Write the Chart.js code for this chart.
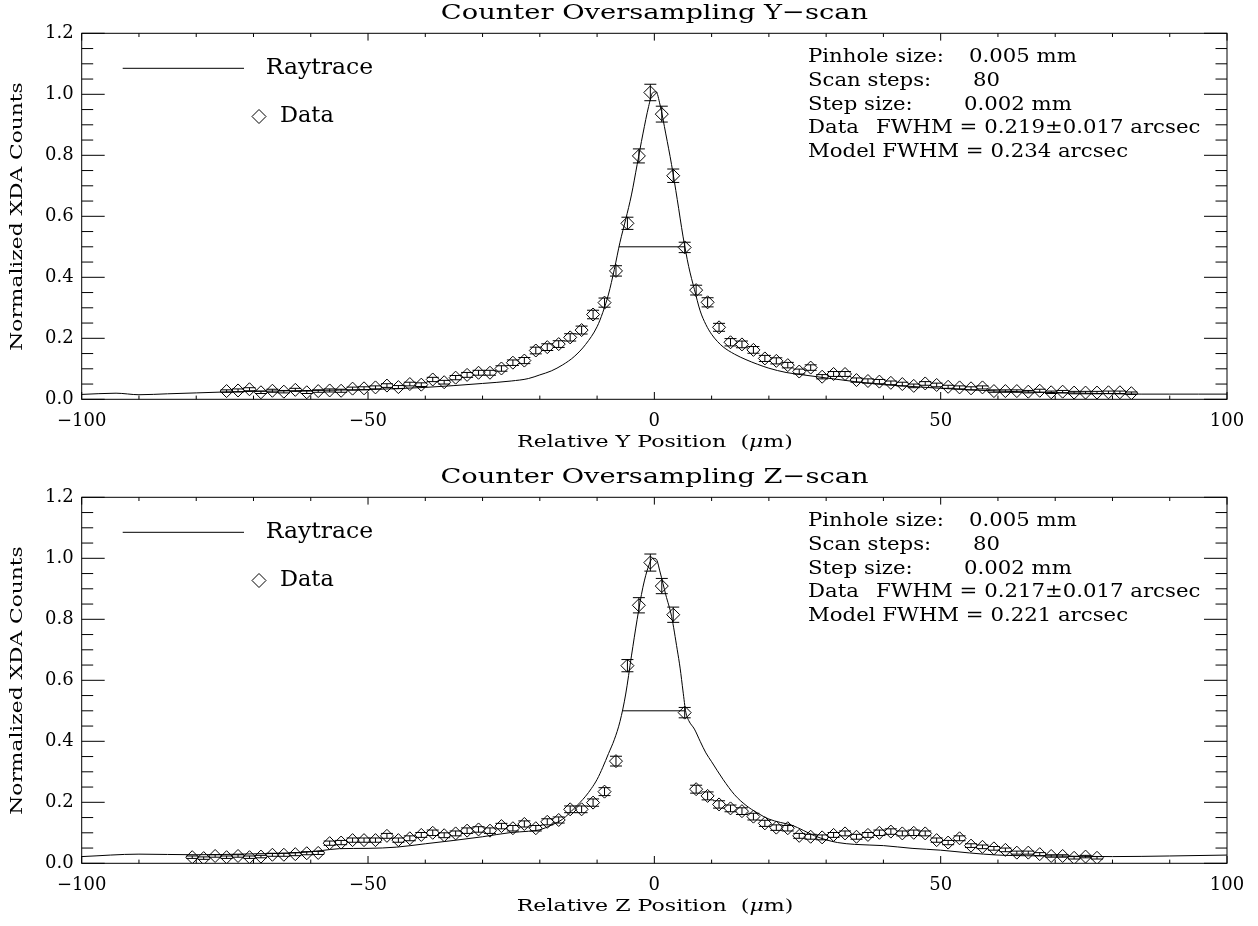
<!DOCTYPE html>
<html lang="en">
  <head>
    <meta charset="UTF-8" />
    <title>Counter Oversampling scans</title>
    <script src="https://cdn.jsdelivr.net/npm/chart.js@4.4.1/dist/chart.umd.min.js"></script>
    <style>
      body { margin: 0; background: #fff; }
      .wrap { position: relative; width: 1258px; height: 926px; }
      canvas { position: absolute; left: 0; }
      #yscan { top: 0; }
      #zscan { top: 464px; }
    </style>
  </head>
  <body>
    <div class="wrap">
      <canvas id="yscan" width="1258" height="463"></canvas>
      <canvas id="zscan" width="1258" height="463"></canvas>
    </div>

    <script>
      // axis ticks
      const xTickValues = [-100, -50, 0, 50, 100];
      const yTickValues = [0, 0.2, 0.4, 0.6, 0.8, 1.0, 1.2];

      // Y-scan: measured points (position in um, normalized counts, 1-sigma)
      const yScanPos = [
        -74.7, -72.7, -70.7, -68.7, -66.7, -64.7, -62.7, -60.7, -58.7, -56.7,
        -54.7, -52.7, -50.7, -48.7, -46.7, -44.7, -42.7, -40.7, -38.7, -36.7,
        -34.7, -32.7, -30.7, -28.7, -26.7, -24.7, -22.7, -20.7, -18.7, -16.7,
        -14.7, -12.7, -10.7, -8.7, -6.7, -4.7, -2.7, -0.7, 1.3, 3.3,
        5.3, 7.3, 9.3, 11.3, 13.3, 15.3, 17.3, 19.3, 21.3, 23.3,
        25.3, 27.3, 29.3, 31.3, 33.3, 35.3, 37.3, 39.3, 41.3, 43.3,
        45.3, 47.3, 49.3, 51.3, 53.3, 55.3, 57.3, 59.3, 61.3, 63.3,
        65.3, 67.3, 69.3, 71.3, 73.3, 75.3, 77.3, 79.3, 81.3, 83.3
      ];
      const yScanCounts = [
        0.027, 0.029, 0.033, 0.023, 0.028, 0.025, 0.031, 0.023, 0.027, 0.029,
        0.028, 0.035, 0.036, 0.039, 0.045, 0.040, 0.050, 0.048, 0.065, 0.056,
        0.071, 0.080, 0.087, 0.087, 0.101, 0.120, 0.127, 0.160, 0.171, 0.181,
        0.203, 0.227, 0.278, 0.317, 0.421, 0.577, 0.798, 1.006, 0.935, 0.733,
        0.498, 0.358, 0.318, 0.236, 0.187, 0.180, 0.162, 0.134, 0.126, 0.112,
        0.091, 0.104, 0.074, 0.083, 0.083, 0.063, 0.060, 0.058, 0.054, 0.050,
        0.044, 0.052, 0.047, 0.041, 0.039, 0.036, 0.039, 0.027, 0.027, 0.027,
        0.025, 0.028, 0.023, 0.025, 0.022, 0.022, 0.022, 0.023, 0.023, 0.020
      ];
      const yScanErr = [
        0.004, 0.005, 0.005, 0.004, 0.005, 0.004, 0.005, 0.004, 0.004, 0.005,
        0.005, 0.005, 0.005, 0.005, 0.006, 0.005, 0.006, 0.006, 0.007, 0.006,
        0.007, 0.008, 0.008, 0.008, 0.009, 0.009, 0.010, 0.011, 0.011, 0.011,
        0.012, 0.013, 0.014, 0.015, 0.017, 0.020, 0.023, 0.027, 0.026, 0.022,
        0.017, 0.016, 0.015, 0.013, 0.012, 0.011, 0.011, 0.010, 0.010, 0.009,
        0.008, 0.009, 0.007, 0.008, 0.008, 0.007, 0.007, 0.007, 0.006, 0.006,
        0.006, 0.006, 0.006, 0.005, 0.005, 0.005, 0.005, 0.004, 0.004, 0.004,
        0.004, 0.005, 0.004, 0.004, 0.004, 0.004, 0.004, 0.004, 0.004, 0.004
      ];
      // Y-scan raytrace model
      const yModelPos = [
        -100, -94, -90, -85, -80, -75, -70, -60, -50, -40,
        -30, -25, -22, -20, -18, -16, -14, -12, -10, -9,
        -8, -7, -6, -5, -4, -3, -2, -1, -0.3, 0.3,
        1, 2, 3, 4, 5, 6, 7, 8, 9, 10,
        11, 12, 14, 16, 18, 20, 23, 26, 30, 35,
        40, 45, 50, 60, 70, 80, 85, 90, 95, 100
      ];
      const yModelCounts = [
        0.016, 0.020, 0.015, 0.018, 0.021, 0.024, 0.026, 0.029, 0.032, 0.039,
        0.052, 0.060, 0.068, 0.080, 0.093, 0.113, 0.140, 0.180, 0.238, 0.285,
        0.345, 0.425, 0.515, 0.590, 0.670, 0.770, 0.870, 0.960, 1.005, 1.008,
        0.965, 0.870, 0.770, 0.655, 0.535, 0.435, 0.360, 0.290, 0.245, 0.213,
        0.190, 0.172, 0.148, 0.130, 0.115, 0.102, 0.088, 0.080, 0.070, 0.058,
        0.048, 0.042, 0.036, 0.027, 0.022, 0.018, 0.017, 0.017, 0.017, 0.017
      ];
      const yHalfMax = [-6.18, 5.29];

      // Z-scan: measured points
      const zScanPos = [
        -80.7, -78.7, -76.7, -74.7, -72.7, -70.7, -68.7, -66.7, -64.7, -62.7,
        -60.7, -58.7, -56.7, -54.7, -52.7, -50.7, -48.7, -46.7, -44.7, -42.7,
        -40.7, -38.7, -36.7, -34.7, -32.7, -30.7, -28.7, -26.7, -24.7, -22.7,
        -20.7, -18.7, -16.7, -14.7, -12.7, -10.7, -8.7, -6.7, -4.7, -2.7,
        -0.7, 1.3, 3.3, 5.3, 7.3, 9.3, 11.3, 13.3, 15.3, 17.3,
        19.3, 21.3, 23.3, 25.3, 27.3, 29.3, 31.3, 33.3, 35.3, 37.3,
        39.3, 41.3, 43.3, 45.3, 47.3, 49.3, 51.3, 53.3, 55.3, 57.3,
        59.3, 61.3, 63.3, 65.3, 67.3, 69.3, 71.3, 73.3, 75.3, 77.3
      ];
      const zScanCounts = [
        0.020, 0.017, 0.024, 0.020, 0.024, 0.020, 0.022, 0.028, 0.028, 0.030,
        0.033, 0.034, 0.066, 0.068, 0.076, 0.076, 0.076, 0.090, 0.076, 0.082,
        0.093, 0.100, 0.092, 0.098, 0.107, 0.111, 0.107, 0.122, 0.115, 0.129,
        0.115, 0.136, 0.142, 0.177, 0.177, 0.199, 0.235, 0.335, 0.648, 0.846,
        0.986, 0.909, 0.815, 0.494, 0.243, 0.221, 0.193, 0.180, 0.171, 0.153,
        0.131, 0.117, 0.115, 0.090, 0.087, 0.085, 0.093, 0.098, 0.087, 0.093,
        0.100, 0.104, 0.098, 0.100, 0.098, 0.076, 0.068, 0.082, 0.058, 0.054,
        0.049, 0.044, 0.035, 0.035, 0.030, 0.024, 0.024, 0.018, 0.022, 0.018
      ];
      const zScanErr = [
        0.004, 0.004, 0.004, 0.004, 0.004, 0.004, 0.004, 0.005, 0.005, 0.005,
        0.005, 0.005, 0.007, 0.007, 0.007, 0.007, 0.007, 0.008, 0.007, 0.008,
        0.008, 0.009, 0.008, 0.008, 0.009, 0.009, 0.009, 0.009, 0.009, 0.010,
        0.009, 0.010, 0.010, 0.011, 0.011, 0.012, 0.013, 0.016, 0.020, 0.025,
        0.028, 0.025, 0.025, 0.017, 0.013, 0.013, 0.012, 0.011, 0.011, 0.011,
        0.010, 0.009, 0.009, 0.008, 0.008, 0.008, 0.008, 0.008, 0.008, 0.008,
        0.009, 0.009, 0.008, 0.009, 0.008, 0.007, 0.007, 0.008, 0.006, 0.006,
        0.006, 0.006, 0.005, 0.005, 0.005, 0.004, 0.004, 0.004, 0.004, 0.004
      ];
      // Z-scan raytrace model
      const zModelPos = [
        -100, -90, -80, -70, -62, -58, -55, -50, -45, -40,
        -35, -30, -25, -22, -20, -18, -16, -14, -12, -11,
        -10, -9, -8, -7, -6, -5, -4, -3, -2, -1,
        -0.3, 0.3, 1, 2, 3, 4, 4.5, 5, 5.5, 6,
        7, 8, 9, 10, 12, 14, 16, 18, 20, 22,
        24, 26, 28, 30, 32, 35, 40, 45, 50, 55,
        60, 70, 80, 90, 100
      ];
      const zModelCounts = [
        0.022, 0.030, 0.028, 0.031, 0.035, 0.042, 0.048, 0.049, 0.053, 0.064,
        0.075, 0.087, 0.101, 0.105, 0.110, 0.125, 0.145, 0.180, 0.220, 0.245,
        0.275, 0.315, 0.360, 0.405, 0.465, 0.555, 0.680, 0.800, 0.905, 0.975,
        1.000, 0.998, 0.955, 0.880, 0.810, 0.700, 0.640, 0.565, 0.495, 0.468,
        0.440, 0.400, 0.362, 0.333, 0.275, 0.225, 0.190, 0.165, 0.145, 0.134,
        0.125, 0.108, 0.090, 0.077, 0.068, 0.062, 0.058, 0.049, 0.043, 0.034,
        0.027, 0.024, 0.022, 0.024, 0.027
      ];
      const zHalfMax = [-5.48, 5.29];

      const FONT = '"DejaVu Serif"';

      // draws text stretched horizontally (the original uses a wide vector font)
      function drawText(ctx, parts, x, y, size, sx, align, rot) {
        if (typeof parts === "string") parts = [[parts, false]];
        ctx.save();
        ctx.translate(x, y);
        if (rot) ctx.rotate(rot);
        ctx.scale(sx, 1);
        ctx.textBaseline = "middle";
        ctx.textAlign = "left";
        ctx.fillStyle = "#000";
        const fonts = parts.map((p) => (p[1] ? "italic " : "") + size + "px " + FONT);
        const widths = parts.map((p, i) => {
          ctx.font = fonts[i];
          return ctx.measureText(p[0]).width;
        });
        const total = widths.reduce((s, w) => s + w, 0);
        let cx = align === "center" ? -total / 2 : 0;
        parts.forEach((p, i) => {
          ctx.font = fonts[i];
          ctx.fillText(p[0], cx, 0);
          cx += widths[i];
        });
        ctx.restore();
      }

      function diamond(ctx, x, y, r) {
        ctx.beginPath();
        ctx.moveTo(x, y - r);
        ctx.lineTo(x + r, y);
        ctx.lineTo(x, y + r);
        ctx.lineTo(x - r, y);
        ctx.closePath();
        ctx.stroke();
      }

      // box with inward ticks on all four sides
      const frameTicks = {
        id: "frameTicks",
        afterDraw(chart) {
          const { ctx, chartArea: a, scales } = chart;
          const x = scales.x, y = scales.y;
          ctx.save();
          ctx.strokeStyle = "#000";
          ctx.lineWidth = 1;
          ctx.strokeRect(a.left, a.top, a.right - a.left, a.bottom - a.top);
          ctx.beginPath();
          for (let v = -100; v <= 100; v += 10) {
            const px = x.getPixelForValue(v);
            const len = v % 50 === 0 ? 7.3 : 3.7;
            ctx.moveTo(px, a.bottom);
            ctx.lineTo(px, a.bottom - len);
            ctx.moveTo(px, a.top);
            ctx.lineTo(px, a.top + len);
          }
          for (let k = 0; k <= 24; k++) {
            const py = y.getPixelForValue(k * 0.05);
            const len = k % 4 === 0 ? 23 : 11.5;
            ctx.moveTo(a.left, py);
            ctx.lineTo(a.left + len, py);
            ctx.moveTo(a.right, py);
            ctx.lineTo(a.right - len, py);
          }
          ctx.stroke();
          ctx.restore();
        },
      };

      // vertical error bars with caps on the data dataset
      const errorBars = {
        id: "errorBars",
        afterDatasetsDraw(chart, args, opts) {
          const { ctx, scales } = chart;
          const meta = chart.getDatasetMeta(2);
          const errs = opts.errors || [];
          ctx.save();
          ctx.strokeStyle = "#000";
          ctx.lineWidth = 1;
          ctx.beginPath();
          meta.data.forEach((pt, i) => {
            const v = chart.data.datasets[2].data[i].y;
            const top = scales.y.getPixelForValue(v + errs[i]);
            const bot = scales.y.getPixelForValue(v - errs[i]);
            ctx.moveTo(pt.x, top);
            ctx.lineTo(pt.x, bot);
            ctx.moveTo(pt.x - 6, top);
            ctx.lineTo(pt.x + 6, top);
            ctx.moveTo(pt.x - 6, bot);
            ctx.lineTo(pt.x + 6, bot);
          });
          ctx.stroke();
          ctx.restore();
        },
      };

      // titles, legend and info text
      const panelText = {
        id: "panelText",
        afterDraw(chart, args, o) {
          const ctx = chart.ctx;
          drawText(ctx, "Counter Oversampling " + o.axis + "\u2212scan", 654.5, 13.5, 21, 1.3, "center");
          drawText(ctx, "Normalized XDA Counts", 18, 216.5, 17, 1.28, "center", -Math.PI / 2);
          drawText(ctx, [["Relative " + o.axis + " Position  (", false], ["\u03bc", true], ["m)", false]],
            655, 443, 17, 1.3, "center");

          ctx.save();
          ctx.strokeStyle = "#000";
          ctx.lineWidth = 1;
          ctx.beginPath();
          ctx.moveTo(122.7, 68.3);
          ctx.lineTo(244, 68.3);
          ctx.stroke();
          diamond(ctx, 259, 116.5, 7);
          ctx.restore();
          drawText(ctx, "Raytrace", 265.7, 68.3, 22, 1.07, "left");
          drawText(ctx, "Data", 280, 116.5, 22, 1.02, "left");

          const s = 1.18, f = 18;
          drawText(ctx, "Pinhole size:", 808, 57, f, s);
          drawText(ctx, "0.005 mm", 969, 57, f, s);
          drawText(ctx, "Scan steps:", 808, 81, f, s);
          drawText(ctx, "80", 973, 81, f, s);
          drawText(ctx, "Step size:", 808, 105, f, s);
          drawText(ctx, "0.002 mm", 964, 105, f, s);
          drawText(ctx, "Data", 808, 128, f, s);
          drawText(ctx, "FWHM = " + o.dataFwhm + " arcsec", 876, 128, f, s);
          drawText(ctx, "Model FWHM = " + o.modelFwhm + " arcsec", 808, 152, f, s);
        },
      };

      function makePanel(id, axis, pos, counts, errs, mPos, mCounts, half, dataFwhm, modelFwhm) {
        const points = pos.map((p, i) => ({ x: p, y: counts[i] }));
        const model = mPos.map((p, i) => ({ x: p, y: mCounts[i] }));
        const halfLine = half.map((p) => ({ x: p, y: 0.5 }));

        return new Chart(document.getElementById(id), {
          type: "scatter",
          data: {
            datasets: [
              {
                label: "Raytrace",
                data: model,
                showLine: true,
                borderColor: "#000",
                borderWidth: 1,
                pointRadius: 0,
                cubicInterpolationMode: "monotone",
              },
              {
                label: "FWHM",
                data: halfLine,
                showLine: true,
                borderColor: "#000",
                borderWidth: 1,
                pointRadius: 0,
              },
              {
                label: "Data",
                data: points,
                pointStyle: "rectRot",
                pointRadius: 6.5,
                pointBorderWidth: 1,
                borderColor: "#000",
                backgroundColor: "rgba(0,0,0,0)",
              },
            ],
          },
          options: {
            responsive: false,
            animation: false,
            devicePixelRatio: 1,
            layout: { padding: { top: 33.3, right: 31, bottom: 0, left: 0 } },
            plugins: {
              legend: { display: false },
              tooltip: { enabled: false },
              errorBars: { errors: errs },
              panelText: { axis: axis, dataFwhm: dataFwhm, modelFwhm: modelFwhm },
            },
            scales: {
              x: {
                type: "linear",
                min: -100,
                max: 100,
                grid: { display: false, drawTicks: false },
                border: { display: false },
                ticks: {
                  color: "#000",
                  font: { family: "DejaVu Serif", size: 18 },
                  padding: 11,
                  maxRotation: 0,
                  autoSkip: false,
                  callback: (v) => (v < 0 ? "\u2212" + Math.abs(v) : String(v)),
                },
                afterBuildTicks: (s) => {
                  s.ticks = xTickValues.map((v) => ({ value: v }));
                },
                afterFit: (s) => {
                  s.height = 63.7;
                },
              },
              y: {
                min: 0,
                max: 1.2,
                grid: { display: false, drawTicks: false },
                border: { display: false },
                ticks: {
                  color: "#000",
                  font: { family: "DejaVu Serif", size: 18 },
                  padding: 8,
                  callback: (v) => Number(v).toFixed(1),
                },
                afterBuildTicks: (s) => {
                  s.ticks = yTickValues.map((v) => ({ value: v }));
                },
                afterFit: (s) => {
                  s.width = 81.7;
                },
              },
            },
          },
          plugins: [frameTicks, errorBars, panelText],
        });
      }

      makePanel("yscan", "Y", yScanPos, yScanCounts, yScanErr, yModelPos, yModelCounts, yHalfMax,
        "0.219\u00b10.017", "0.234");
      makePanel("zscan", "Z", zScanPos, zScanCounts, zScanErr, zModelPos, zModelCounts, zHalfMax,
        "0.217\u00b10.017", "0.221");
    </script>
  </body>
</html>
